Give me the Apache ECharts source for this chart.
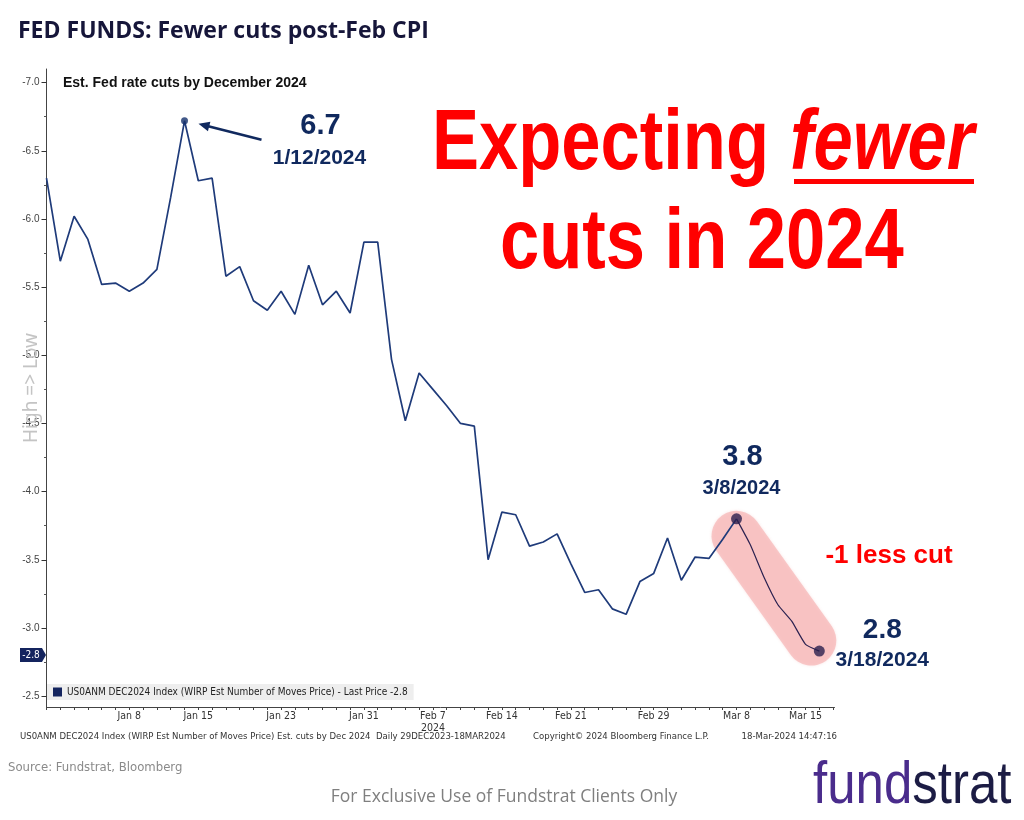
<!DOCTYPE html>
<html><head><meta charset="utf-8">
<script src="https://cdn.jsdelivr.net/npm/echarts@6/dist/echarts.min.js"></script>
<style>html,body{margin:0;padding:0;background:#fff}#c{width:1024px;height:820px}</style>
</head><body><div id="c"></div>
<script>
// ---- data ----
const dates = ['Dec 29','Jan 1','Jan 2','Jan 3','Jan 4','Jan 5','Jan 8','Jan 9','Jan 10','Jan 11','Jan 12',
  'Jan 15','Jan 16','Jan 17','Jan 18','Jan 19','Jan 22','Jan 23','Jan 24','Jan 25','Jan 26','Jan 29','Jan 30','Jan 31',
  'Feb 1','Feb 2','Feb 5','Feb 6','Feb 7','Feb 8','Feb 9','Feb 12','Feb 13','Feb 14','Feb 15','Feb 16','Feb 19','Feb 20',
  'Feb 21','Feb 22','Feb 23','Feb 26','Feb 27','Feb 28','Feb 29','Mar 1','Mar 4','Mar 5','Mar 6','Mar 7','Mar 8',
  'Mar 11','Mar 12','Mar 13','Mar 14','Mar 15','Mar 18'];
const cuts = [-6.30,-5.69,-6.02,-5.85,-5.52,-5.53,-5.47,-5.53,-5.63,-6.16,-6.72,
  -6.28,-6.30,-5.58,-5.65,-5.40,-5.33,-5.47,-5.30,-5.66,-5.37,-5.47,-5.31,-5.83,
  -5.83,-4.97,-4.52,-4.87,-4.75,-4.63,-4.50,-4.48,-3.50,-3.85,-3.83,-3.60,-3.63,-3.69,
  -3.47,-3.26,-3.28,-3.14,-3.10,-3.34,-3.40,-3.66,-3.35,-3.52,-3.51,-3.65,-3.80,
  -3.61,-3.37,-3.17,-3.05,-2.88,-2.83];
const xTickLabels = ['Jan 8','Jan 15','Jan 23','Jan 31','Feb 7','Feb 14','Feb 21','Feb 29','Mar 8','Mar 15'];
const yTickValues = [-7.0,-6.5,-6.0,-5.5,-5.0,-4.5,-4.0,-3.5,-3.0,-2.5];
const yMinorValues = [-6.75,-6.25,-5.75,-5.25,-4.75,-4.25,-3.75,-3.25,-2.75];
const seriesName = 'US0ANM DEC2024 Index (WIRP Est Number of Moves Price) - Last Price -2.8';
const highlightDates = ['Jan 12','Mar 8','Mar 18'];

// ---- styling ----
const NARROW = "'Liberation Sans Narrow','Arial Narrow','DejaVu Sans Condensed',sans-serif";
const ARIAL = "'Liberation Sans',Arial,sans-serif";
const NAVY = '#10295e';

const idx = d => dates.indexOf(d);
const points = cuts.map((v, i) => [i, v]);
const splitIdx = idx('Mar 8');
const mainData = points.slice(0, splitIdx + 1);
const tailData = points.slice(splitIdx);
const xLabelIdx = xTickLabels.map(idx);
const xTickIdx = dates.map((d, i) => i).concat([dates.length]);

const chart = echarts.init(document.getElementById('c'), null, {renderer: 'canvas'});
const option = {
  animation: false,
  backgroundColor: '#fff',
  grid: {left: 46.5, top: 69, width: 788, height: 638},
  legend: {
    data: [{name: seriesName, icon: 'rect'}],
    left: 47, top: 684, backgroundColor: '#eeeeee', padding: [3, 6, 3, 6],
    itemWidth: 9, itemHeight: 9, selectedMode: false,
    textStyle: {fontSize: 10, fontFamily: NARROW, color: '#222'}
  },
  xAxis: {
    type: 'value', min: 0, max: 57.1,
    axisLine: {lineStyle: {color: '#444'}},
    splitLine: {show: false},
    axisTick: {customValues: xTickIdx, length: 3, lineStyle: {color: '#444'}},
    axisLabel: {
      customValues: xLabelIdx, margin: 3, fontSize: 10.5, lineHeight: 12,
      fontFamily: NARROW, color: '#333',
      formatter: v => { const d = dates[Math.round(v)]; return d === 'Feb 7' ? d + '\n2024' : d; }
    }
  },
  yAxis: [{
    type: 'value', inverse: true, min: -7.1, max: -2.42,
    axisLine: {show: true, lineStyle: {color: '#444'}},
    axisTick: {show: true, customValues: yTickValues, length: 5, lineStyle: {color: '#333'}},
    axisLabel: {customValues: yTickValues, formatter: v => v.toFixed(1), margin: 7,
      fontSize: 10, fontFamily: ARIAL, color: '#444'},
    splitLine: {show: false}
  }, {
    type: 'value', inverse: true, min: -7.1, max: -2.42, position: 'left', offset: 0,
    axisLine: {show: false},
    axisTick: {show: true, customValues: yMinorValues, length: 2.5, lineStyle: {color: '#555'}},
    axisLabel: {show: false}, splitLine: {show: false}
  }],
  series: [{
    name: seriesName, type: 'line', data: mainData, showSymbol: false, z: 3,
    lineStyle: {color: '#1f3b7a', width: 1.7}, itemStyle: {color: '#14245e'}
  }, {
    name: 'tail', type: 'line', data: tailData, showSymbol: false, smooth: 0.15, z: 4,
    lineStyle: {color: '#2b2150', width: 1.2}, itemStyle: {color: '#2b2150'}
  }, {
    name: 'dots', type: 'scatter', z: 5,
    data: highlightDates.map(d => ({
      value: [idx(d), cuts[idx(d)]],
      symbolSize: d === 'Jan 12' ? 7 : 11,
      itemStyle: {color: d === 'Jan 12' ? '#13306b' : '#2a1f4d'}
    }))
  }]
};
chart.setOption(option);

const px = d => chart.convertToPixel({seriesIndex: 0}, [idx(d), cuts[idx(d)]]);
const pk = px('Jan 12'), m8 = px('Mar 8'), m18 = px('Mar 18');
const last = px(dates[dates.length - 1]);

// arrow geometry
const tail = [pk[0] + 77, pk[1] + 19], tip = [pk[0] + 14, pk[1] + 3];
const dx = tip[0] - tail[0], dy = tip[1] - tail[1], L = Math.hypot(dx, dy);
const ux = dx / L, uy = dy / L, nx = -uy, ny = ux;
const ah = 11, aw = 5;

function txt(x, y, text, font, fill, align, extra) {
  return Object.assign({type: 'text', x: x, y: y, z: 50,
    style: {text: text, font: font, fill: fill, align: align || 'left', verticalAlign: 'middle'}}, extra || {});
}

const tagY = last[1] + 4;
chart.setOption({
  graphic: [
    {type: 'line', z: 1, shape: {x1: m8[0], y1: m8[1] + 17, x2: m18[0] - 8, y2: m18[1] - 10.5},
      style: {stroke: 'rgba(246,165,165,0.55)', lineWidth: 50, lineCap: 'round',
        shadowBlur: 3, shadowColor: 'rgba(230,120,120,0.35)'}},
    {type: 'line', z: 40, shape: {x1: tail[0], y1: tail[1], x2: tip[0] - ux * 8, y2: tip[1] - uy * 8},
      style: {stroke: NAVY, lineWidth: 2.6}},
    {type: 'polygon', z: 40, shape: {points: [tip,
      [tip[0] - ux * ah + nx * aw, tip[1] - uy * ah + ny * aw],
      [tip[0] - ux * ah - nx * aw, tip[1] - uy * ah - ny * aw]]}, style: {fill: NAVY}},
    // price tag
    {type: 'polygon', z: 40, shape: {points: [[20, tagY - 7], [42, tagY - 7], [46, tagY], [42, tagY + 7], [20, tagY + 7]]},
      style: {fill: '#14245e'}},
    txt(31, tagY, '-2.8', '10px ' + NARROW, '#fff', 'center'),
    // titles
    txt(18, 31, 'FED FUNDS: Fewer cuts post-Feb CPI', "bold 23px 'Open Sans',sans-serif", '#16163a'),
    txt(63, 83, 'Est. Fed rate cuts by December 2024', 'bold 14px ' + ARIAL, '#111'),
    // big red statement
    txt(432, 145, 'Expecting', 'bold 86px ' + ARIAL, '#ff0000', 'left', {scaleX: 0.82}),
    txt(790, 145, 'fewer', 'italic bold 86px ' + ARIAL, '#ff0000', 'left', {scaleX: 0.82}),
    {type: 'rect', z: 50, shape: {x: 794, y: 179, width: 180, height: 5}, style: {fill: '#ff0000'}},
    txt(500, 244, 'cuts in 2024', 'bold 86px ' + ARIAL, '#ff0000', 'left', {scaleX: 0.82}),
    // annotations
    txt(pk[0] + 136, pk[1] + 5, '6.7', 'bold 29px ' + ARIAL, NAVY, 'center'),
    txt(pk[0] + 135, pk[1] + 37, '1/12/2024', 'bold 21px ' + ARIAL, NAVY, 'center'),
    txt(m8[0] + 6, m8[1] - 62, '3.8', 'bold 29px ' + ARIAL, NAVY, 'center'),
    txt(m8[0] + 5, m8[1] - 30, '3/8/2024', 'bold 20px ' + ARIAL, NAVY, 'center'),
    txt(m18[0] + 63, m18[1] - 21, '2.8', 'bold 28px ' + ARIAL, NAVY, 'center'),
    txt(m18[0] + 63, m18[1] + 9, '3/18/2024', 'bold 21px ' + ARIAL, NAVY, 'center'),
    txt(889, 556, '-1 less cut', 'bold 26px ' + ARIAL, '#ff0000', 'center'),
    // y axis name
    txt(32, 388, 'High => Low', "19px 'Noto Sans',sans-serif", '#c4c4c4', 'center', {rotation: Math.PI / 2}),
    // bloomberg footer
    txt(20, 737, 'US0ANM DEC2024 Index (WIRP Est Number of Moves Price) Est. cuts by Dec 2024  Daily 29DEC2023-18MAR2024', '9.5px ' + NARROW, '#333'),
    txt(533, 737, 'Copyright\u00a9 2024 Bloomberg Finance L.P.', '9.5px ' + NARROW, '#333'),
    txt(837, 737, '18-Mar-2024 14:47:16', '9.5px ' + NARROW, '#333', 'right'),
    txt(8, 768, 'Source: Fundstrat, Bloomberg', '13px ' + NARROW, '#8a8a8a'),
    txt(504, 797, 'For Exclusive Use of Fundstrat Clients Only', "17.5px 'Open Sans',sans-serif", '#7f7f7f', 'center'),
    {type: 'text', x: 813, y: 786, z: 50, scaleX: 0.85,
      style: {text: '{a|fund}{b|strat}', verticalAlign: 'middle', align: 'left',
        rich: {a: {font: '500 60px ' + ARIAL, fill: '#4a2c8c'}, b: {font: '500 60px ' + ARIAL, fill: '#1c1c44'}}}}
  ]
});
</script></body></html>
